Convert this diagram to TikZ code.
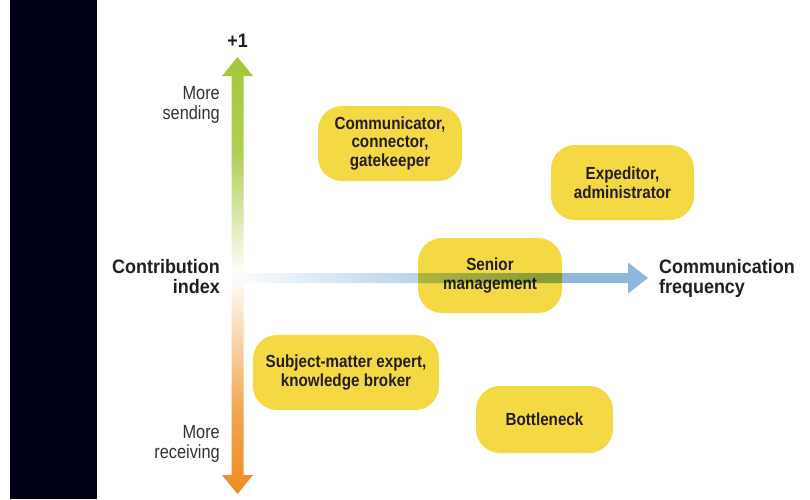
\documentclass[tikz,border=0pt]{standalone}
\usepackage{fontspec}
\setmainfont{Liberation Sans}
\newfontfamily\boxfont{Liberation Sans}[FakeStretch=0.87]
\newfontfamily\axisfont{Liberation Sans}[FakeStretch=0.92]
\newfontfamily\notefont{Liberation Sans}[FakeStretch=0.86]

\definecolor{panel}{HTML}{000018}
\definecolor{tag}{HTML}{F4D944}
\definecolor{ink}{HTML}{231F20}
\definecolor{noteink}{HTML}{333333}
\definecolor{sendgreen}{HTML}{A4C639}
\definecolor{recvorange}{HTML}{EE8C22}
\definecolor{freqblue}{HTML}{8DB8DC}

% green (sending) at the top, white at the centre, orange (receiving) below
\pgfdeclareverticalshading{sendrecv}{100bp}{%
  color(0bp)=(recvorange); color(25bp)=(recvorange);
  color(34bp)=(recvorange!80!white); color(50bp)=(white);
  color(64bp)=(sendgreen!85!white); color(75bp)=(sendgreen);
  color(100bp)=(sendgreen)}
% frequency axis fades in from the left
\pgfdeclarehorizontalshading{freqfade}{100bp}{%
  color(0bp)=(white); color(25bp)=(white);
  color(45bp)=(freqblue!55!white); color(63bp)=(freqblue);
  color(100bp)=(freqblue)}

\begin{document}
\begin{tikzpicture}[x=1pt,y=-1pt,
  tagbox/.style={fill=tag, rounded corners=24pt, minimum height=75pt,
    inner sep=0pt, align=center, text=ink,
    font=\boxfont\bfseries\fontsize{17.5}{18.5}\selectfont},
  axislabel/.style={inner sep=0pt, text=ink,
    font=\axisfont\bfseries\fontsize{19.5}{19.5}\selectfont},
  notelabel/.style={inner sep=0pt, text=noteink, align=right,
    font=\notefont\fontsize{19}{19.5}\selectfont}]

\useasboundingbox (0,0) rectangle (810,499);
\fill[white] (0,0) rectangle (810,499);
\fill[panel] (10,0) rectangle (96.5,499);

% contribution index axis (double-headed)
\shade[shading=sendrecv]
  (231.5,76) -- (222,76) -- (237.5,57) -- (253,76) -- (243.5,76)
  -- (243.5,475) -- (253,475) -- (237.5,494) -- (222,475) -- (231.5,475) -- cycle;

% role boxes
\node[tagbox, minimum width=144pt] (comm) at (390,143.5)
  {Communicator,\\connector,\\gatekeeper};
\node[tagbox, minimum width=143pt] (exped) at (622.5,182.5)
  {Expeditor,\\administrator};
\node[tagbox, minimum width=144pt] (senior) at (490,275.5)
  {Senior\\management};
\node[tagbox, minimum width=186pt] (sme) at (346,372.5)
  {Subject-matter expert,\\knowledge broker};
\node[tagbox, minimum width=137pt, minimum height=67pt] (bottle) at (544.5,419.5)
  {Bottleneck};

% communication frequency axis, laid over the boxes
\begin{scope}[blend mode=multiply]
\shade[shading=freqfade]
  (227,273) -- (628,273) -- (628,262.5) -- (648,278) -- (628,293.5)
  -- (628,283) -- (227,283) -- cycle;
\end{scope}

% axis labels
\node[axislabel, anchor=base] (plusone) at (237.5,47) {+1};
\node[axislabel, align=right, anchor=base east] (contrib) at (220,293)
  {Contribution\\index};
\node[axislabel, align=left, anchor=base west] (freq) at (659,293)
  {Communication\\frequency};
\node[notelabel, anchor=base east] (sending) at (220,119) {More\\sending};
\node[notelabel, anchor=base east] (receiving) at (220,458) {More\\receiving};
\end{tikzpicture}
\end{document}
